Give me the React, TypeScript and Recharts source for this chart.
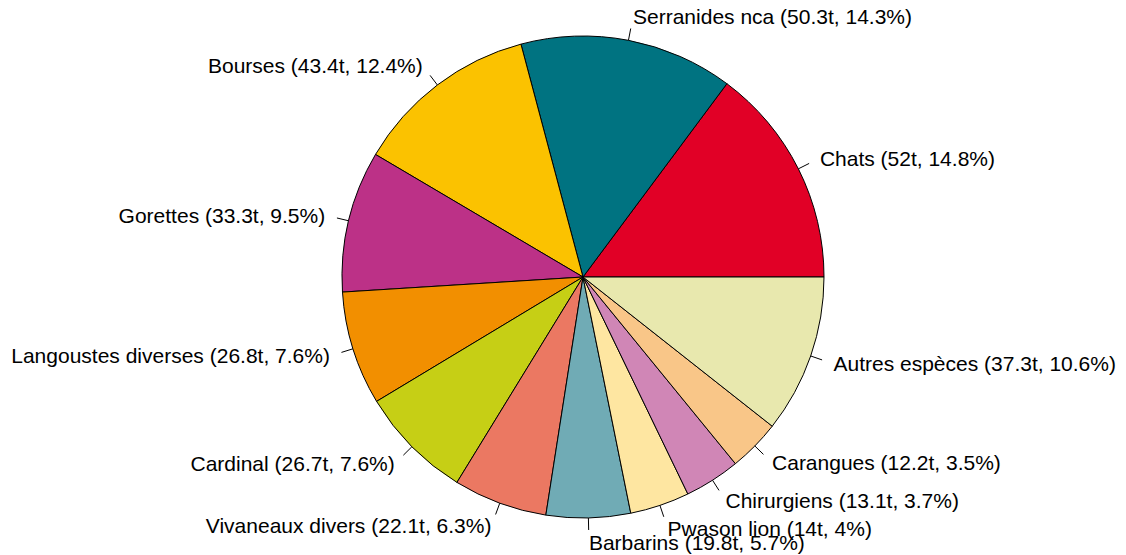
import React from "react";
import { PieChart, Pie, Cell } from "recharts";

// species, tonnage and share as printed in the labels
const SPECIES = [
  "Chats",
  "Serranides nca",
  "Bourses",
  "Gorettes",
  "Langoustes diverses",
  "Cardinal",
  "Vivaneaux divers",
  "Barbarins",
  "Pwason lion",
  "Chirurgiens",
  "Carangues",
  "Autres espèces",
];
const TONNES = [52, 50.3, 43.4, 33.3, 26.8, 26.7, 22.1, 19.8, 14, 13.1, 12.2, 37.3];
const PERCENT = [14.8, 14.3, 12.4, 9.5, 7.6, 7.6, 6.3, 5.7, 4, 3.7, 3.5, 10.6];

const COLORS = [
  "#E10026",
  "#007381",
  "#FBC200",
  "#BC3187",
  "#F28F00",
  "#C6CF15",
  "#EB7862",
  "#70ABB5",
  "#FEE6A1",
  "#D086B6",
  "#F9C688",
  "#E8E8AE",
];

const data = SPECIES.map((name, i) => ({
  name,
  value: TONNES[i],
  label: `${name} (${TONNES[i]}t, ${PERCENT[i]}%)`,
}));

const RADIAN = Math.PI / 180;

// R-style pie label: tick from r to 1.05r, text at 1.1r
const renderLabel = (props: any) => {
  const { cx, cy, midAngle, outerRadius, payload, index } = props;
  const cos = Math.cos(-midAngle * RADIAN);
  const sin = Math.sin(-midAngle * RADIAN);
  const x1 = cx + outerRadius * cos;
  const y1 = cy + outerRadius * sin;
  const x2 = cx + outerRadius * 1.05 * cos;
  const y2 = cy + outerRadius * 1.05 * sin;
  const tx = cx + outerRadius * 1.1 * cos;
  const ty = cy + outerRadius * 1.1 * sin;
  return (
    <g key={`lbl-${index}`}>
      <line x1={x1} y1={y1} x2={x2} y2={y2} stroke="#000" strokeWidth={1} />
      <text
        x={tx}
        y={ty}
        textAnchor={cos < 0 ? "end" : "start"}
        dominantBaseline="central"
        fill="#000"
        fontSize={21}
        fontFamily="'Liberation Sans', Arial, sans-serif"
      >
        {payload.label}
      </text>
    </g>
  );
};

export default function App() {
  return (
    <div style={{ position: "absolute", left: 0, top: 0, background: "#fff" }}>
      <PieChart width={1126} height={555} margin={{ top: 0, right: 0, bottom: 0, left: 0 }}>
        <Pie
          data={data}
          dataKey="value"
          nameKey="name"
          cx={583}
          cy={277}
          outerRadius={241}
          startAngle={0}
          endAngle={360}
          stroke="#000"
          strokeWidth={1}
          label={renderLabel}
          labelLine={false}
          isAnimationActive={false}
        >
          {data.map((d, i) => (
            <Cell key={`cell-${i}`} fill={COLORS[i]} />
          ))}
        </Pie>
      </PieChart>
    </div>
  );
}
